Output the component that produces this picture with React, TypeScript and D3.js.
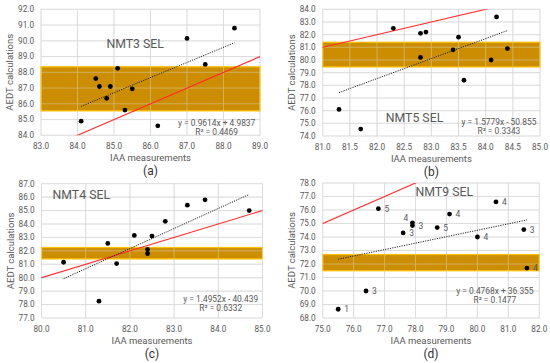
import React from "react";
import * as d3 from "d3";

const W = 550;
const H = 363;
const FONT = "Roboto, 'Liberation Sans', sans-serif";
const GRAY = "#595959";

// (a) NMT3 SEL
const aX = [84.1, 84.5, 84.6, 84.9, 84.8, 85.1, 85.5, 85.3, 86.2, 87.0, 87.5, 88.3];
const aY = [84.9, 87.6, 87.1, 87.1, 86.35, 88.25, 86.95, 85.6, 84.6, 90.15, 88.5, 90.8];
const aTrend = [0.9614, 4.9837];
const aBand = [85.55, 88.35];

// (b) NMT5 SEL
const bX = [81.3, 81.7, 82.3, 82.8, 82.9, 82.8, 83.4, 83.5, 83.6, 84.1, 84.2, 84.4];
const bY = [76.1, 74.55, 82.5, 82.1, 82.2, 80.2, 80.8, 81.8, 78.4, 80.0, 83.4, 80.9];
const bTrend = [1.5779, -50.855];
const bBand = [79.45, 81.4];

// (c) NMT4 SEL
const cX = [80.5, 81.3, 81.5, 81.7, 82.1, 82.4, 82.4, 82.5, 82.8, 83.3, 83.7, 84.7];
const cY = [81.15, 78.25, 82.55, 81.05, 83.15, 82.1, 81.8, 83.1, 84.2, 85.4, 85.8, 85.0];
const cTrend = [1.4952, -40.439];
const cBand = [81.4, 82.25];

// (d) NMT9 SEL
const dX = [75.5, 76.4, 76.8, 77.6, 77.9, 77.9, 78.7, 79.1, 80.0, 80.6, 81.5, 81.6];
const dY = [68.65, 70.0, 76.1, 74.3, 75.05, 74.85, 74.7, 75.7, 74.0, 76.6, 74.55, 71.7];
const dCount = ["1", "3", "5", "3", "4", "3", "5", "4", "4", "4", "3", "4"];
const dCountSide = ["r", "r", "r", "r", "ul", "r", "r", "r", "r", "r", "r", "r"];
const dTrend = [0.4768, 36.355];
const dBand = [71.5, 72.7];

const eqText = (t: number[]) =>
  `y = ${t[0]}x ${t[1] < 0 ? "-" : "+"} ${Math.abs(t[1])}`;

type Cfg = {
  id: string;
  name: string;
  box: [number, number, number, number]; // left, right, top, bottom
  xDomain: [number, number];
  yDomain: [number, number];
  xCount: number;
  yCount: number;
  xs: number[];
  ys: number[];
  trend: number[];
  r2: string;
  band: number[];
  titleAt: [number, number];
  eqAt: [number, number];
  counts?: string[];
  countSide?: string[];
};

const panels: Cfg[] = [
  {
    id: "a", name: "NMT3 SEL", box: [41, 260, 9.3, 135.3],
    xDomain: [83, 89], yDomain: [84, 92], xCount: 6, yCount: 8,
    xs: aX, ys: aY, trend: aTrend, r2: "0.4469", band: aBand,
    titleAt: [85.58, 89.57], eqAt: [0.802, 0.905],
  },
  {
    id: "b", name: "NMT5 SEL", box: [322.7, 540, 9.3, 136],
    xDomain: [81, 85], yDomain: [74, 84], xCount: 8, yCount: 10,
    xs: bX, ys: bY, trend: bTrend, r2: "0.3343", band: bBand,
    titleAt: [82.69, 75.13], eqAt: [0.811, 0.889],
  },
  {
    id: "c", name: "NMT4 SEL", box: [41.5, 262.5, 183.7, 318],
    xDomain: [80, 85], yDomain: [77, 87], xCount: 5, yCount: 10,
    xs: cX, ys: cY, trend: cTrend, r2: "0.6332", band: cBand,
    titleAt: [80.9, 85.83], eqAt: [0.811, 0.856],
  },
  {
    id: "d", name: "NMT9 SEL", box: [322.7, 539.3, 183, 318],
    xDomain: [75, 82], yDomain: [68, 78], xCount: 7, yCount: 10,
    xs: dX, ys: dY, trend: dTrend, r2: "0.1477", band: dBand,
    titleAt: [78.93, 77.04], eqAt: [0.795, 0.798],
    counts: dCount, countSide: dCountSide,
  },
];

const fmt = d3.format(".1f");

function Panel({ cfg }: { cfg: Cfg }) {
  const [left, right, top, bottom] = cfg.box;
  const x = d3.scaleLinear().domain(cfg.xDomain).range([left, right]);
  const y = d3.scaleLinear().domain(cfg.yDomain).range([bottom, top]);
  const xTicks = x.ticks(cfg.xCount);
  const yTicks = y.ticks(cfg.yCount);
  const clipId = `clip-${cfg.id}`;

  const grid = (op: number) => (
    <g stroke="#d9d9d9" strokeWidth={0.8} opacity={op}>
      {xTicks.map((t) => (
        <line key={"x" + t} x1={x(t)} x2={x(t)} y1={top} y2={bottom} />
      ))}
      {yTicks.map((t) => (
        <line key={"y" + t} x1={left} x2={right} y1={y(t)} y2={y(t)} />
      ))}
    </g>
  );

  const xMin = d3.min(cfg.xs) as number;
  const xMax = d3.max(cfg.xs) as number;
  const trendLine = d3.line<number>()
    .x((v) => x(v))
    .y((v) => y(cfg.trend[0] * v + cfg.trend[1]));

  const oneToOne = d3.line<number>().x((v) => x(v)).y((v) => y(v));
  const lo = Math.min(cfg.xDomain[0], cfg.yDomain[0]);
  const hi = Math.max(cfg.xDomain[1], cfg.yDomain[1]);

  const cx = (left + right) / 2;
  const cy = (top + bottom) / 2;
  const eqX = left + cfg.eqAt[0] * (right - left);
  const eqY = top + cfg.eqAt[1] * (bottom - top);

  return (
    <g fontFamily={FONT}>
      <defs>
        <clipPath id={clipId}>
          <rect x={left} y={top} width={right - left} height={bottom - top} />
        </clipPath>
      </defs>
      {grid(1)}
      <rect
        x={left}
        y={y(cfg.band[1])}
        width={right - left}
        height={y(cfg.band[0]) - y(cfg.band[1])}
        fill="#cc8e00"
        stroke="#ffc000"
        strokeWidth={1.2}
      />
      {grid(0.55)}
      <path
        d={oneToOne([lo, hi]) || ""}
        clipPath={`url(#${clipId})`}
        stroke="#ff2a2a"
        strokeWidth={1.1}
        fill="none"
      />
      <path
        d={trendLine([xMin, xMax]) || ""}
        stroke="#222"
        strokeWidth={1}
        strokeDasharray="1.2,1.2"
        fill="none"
      />
      {cfg.xs.map((v, i) => (
        <circle key={i} cx={x(v)} cy={y(cfg.ys[i])} r={2.4} fill="#000" />
      ))}
      {cfg.counts &&
        cfg.counts.map((c, i) => {
          const ul = cfg.countSide && cfg.countSide[i] === "ul";
          return (
            <text
              key={"c" + i}
              x={x(cfg.xs[i]) + (ul ? -6.5 : 6)}
              y={y(cfg.ys[i]) + (ul ? -5 : 0)}
              dy="0.35em"
              textAnchor={ul ? "middle" : "start"}
              fontSize={8.5}
              fill={GRAY}
            >
              {c}
            </text>
          );
        })}
      {/* tick labels */}
      {yTicks.map((t) => (
        <text
          key={"yl" + t}
          x={left - 7}
          y={y(t)}
          dy="0.35em"
          textAnchor="end"
          fontSize={8.2}
          fill={GRAY}
        >
          {fmt(t)}
        </text>
      ))}
      {xTicks.map((t) => (
        <text
          key={"xl" + t}
          x={x(t)}
          y={bottom + 14}
          textAnchor="middle"
          fontSize={8.2}
          fill={GRAY}
        >
          {fmt(t)}
        </text>
      ))}
      <text x={cx} y={bottom + 26} textAnchor="middle" fontSize={9.5} fill={GRAY}>
        IAA measurements
      </text>
      <text
        transform={`translate(${left - 31},${cy}) rotate(-90)`}
        dy="0.35em"
        textAnchor="middle"
        fontSize={9.5}
        fill={GRAY}
      >
        AEDT calculations
      </text>
      <text x={cx} y={bottom + 40} textAnchor="middle" fontSize={12} fill="#333">
        ({cfg.id})
      </text>
      <text
        x={x(cfg.titleAt[0])}
        y={y(cfg.titleAt[1])}
        textAnchor="middle"
        fontSize={12.3}
        fill={GRAY}
      >
        {cfg.name}
      </text>
      <text x={eqX} y={eqY} dy="0.35em" textAnchor="middle" fontSize={8.4} fill={GRAY}>
        {eqText(cfg.trend)}
      </text>
      <text x={eqX} y={eqY + 9} dy="0.35em" textAnchor="middle" fontSize={8.4} fill={GRAY}>
        R² = {cfg.r2}
      </text>
    </g>
  );
}

export default function App() {
  return (
    <svg
      width={W}
      height={H}
      style={{ position: "absolute", left: 0, top: 0, background: "#fff" }}
    >
      <rect width={W} height={H} fill="#fff" />
      {panels.map((p) => (
        <Panel key={p.id} cfg={p} />
      ))}
    </svg>
  );
}
